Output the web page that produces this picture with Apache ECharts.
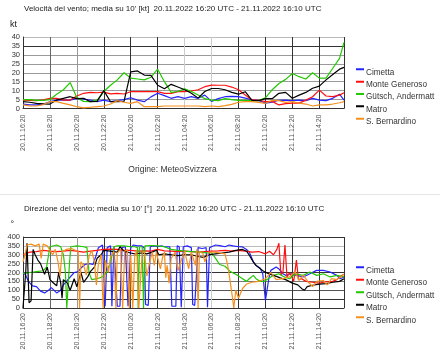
<!DOCTYPE html>
<html><head><meta charset="utf-8">
<script src="https://cdn.jsdelivr.net/npm/echarts@6/dist/echarts.min.js"></script>
<style>html,body{margin:0;padding:0;background:#fff}#c{width:440px;height:363px}</style>
</head><body><div id="c"></div><script>
const FONT = 'Liberation Sans, Arial, sans-serif';
const stationNames = ['Cimetta', 'Monte Generoso', 'Gütsch, Andermatt', 'Matro', 'S. Bernardino'];
const stationColors = ['#2424ff', '#ff1010', '#22c800', '#000000', '#f5901e'];

const titleSpeed = "Velocità del vento; media su 10' [kt]  20.11.2022 16:20 UTC - 21.11.2022 16:10 UTC";
const titleDir = "Direzione del vento; media su 10' [°]  20.11.2022 16:20 UTC - 21.11.2022 16:10 UTC";
const sourceText = 'Origine: MeteoSvizzera';

// hours after 20.11.2022 16:20 UTC
const X_MAX = 23.8333;
const xLabelHours = [0, 2, 4, 6, 8, 10, 12, 14, 16, 18, 20, 22];
const xLineHours = [0, 2, 4, 6, 8, 10, 12, 14, 16, 18, 20, 22, 23.8333];
const speedTicks = [0, 5, 10, 15, 20, 25, 30, 35, 40];
const dirTicks = [0, 50, 100, 150, 200, 250, 300, 350, 400];

// ---- wind speed [kt], half-hour readings
const speedHours = [0,0.5,1,1.5,2,2.5,3,3.5,4,4.5,5,5.5,6,6.5,7,7.5,8,8.5,9,9.5,10,10.5,11,11.5,12,12.5,13,13.5,14,14.5,15,15.5,16,16.5,17,17.5,18,18.5,19,19.5,20,20.5,21,21.5,22,22.5,23,23.5,23.8333];
const speedCimetta = [2.5,2,2,2.5,3.8,4.7,4.7,4.7,5.7,5.2,4.7,3.8,4.7,3.8,4.4,5,6,4.7,3.8,6.5,8.5,7.2,5.7,6.6,5.7,6.6,5.7,7.5,4,5.5,6.6,6.8,6.6,5.8,4.8,4.5,3,3.6,4.6,4.7,4.4,4.7,4.4,5.7,4.7,4.4,5.7,8,4.7];
const speedMonteGeneroso = [4.7,4.5,4.4,4.8,5.7,5.7,4.7,4.7,7,8.5,9,8.8,9.2,8.2,8.5,8.1,9.4,9.4,9.4,9.4,9.4,8.5,8.5,9.4,9.4,9.8,10.5,12.2,13.1,13,13,12,10.5,7.5,4.8,4.6,3.8,4,2,2.7,3,3,4.7,6.6,10.3,7,6.6,7.5,8.8];
const speedGuetsch = [5,5,4.5,4.5,5,8,10.5,14.5,6,4,3.8,4.5,9.5,13,16,20,17,16.5,16,17.5,22,15,9,9.5,11,9.5,7.5,5.5,4.7,4.4,5.5,5,4.5,4.6,4.4,4.4,6,10.5,14,16.3,19.6,17.8,16.5,20,17,17,22.5,28,37];
const speedMatro = [3.8,3.5,2.9,2.6,2.5,4.7,5.7,6.6,5.5,5.7,3.8,4,10,3.8,3.8,4,20.5,21,18.7,18.5,13,11,13.5,12,10.5,8.5,5.8,9.5,11.2,11.2,10.5,9,8,9.4,4.5,4.4,5.5,5.5,8.5,9,5.7,7.5,9,11.3,12.5,16,19,22,23];
const speedSBernardino = [2,1.5,1.4,2.2,3.8,3.8,2.9,2,1,0.3,0.7,1,1.4,2.5,4.4,3.5,2.9,3.8,1,1,1,1.4,1.4,1.4,1.4,1.4,1.4,1,1.4,1,1.6,2.3,3.5,3.8,3.8,3.4,2.9,4.5,4.4,3.4,3.8,3,2.5,1.4,2,2,2.5,3.2,3.8];

// ---- wind direction [°], [hour, degrees]
const dirCimetta = [[0,200],[0.2,185],[0.4,150],[0.7,125],[1.0,120],[1.3,95],[1.6,85],[1.9,100],[2.1,115],[2.5,85],[2.8,100],[3.0,130],[3.4,165],[3.8,200],[4.1,205],[4.3,225],[4.6,245],[4.9,250],[5.2,245],[5.4,290],[5.6,340],[5.9,355],[6.0,345],[6.1,10],[6.25,340],[6.5,350],[6.6,10],[6.75,345],[7.0,10],[7.2,10],[7.35,340],[7.6,345],[7.8,10],[7.9,20],[8.0,340],[8.2,355],[8.5,350],[8.8,350],[9.0,340],[9.1,20],[9.3,15],[9.45,345],[9.7,350],[10.0,345],[10.3,350],[10.5,345],[10.9,345],[11.05,10],[11.2,10],[11.35,10],[11.45,350],[11.6,345],[11.75,5],[11.9,345],[12.2,350],[12.5,340],[12.6,20],[12.75,15],[12.85,10],[13.0,340],[13.3,335],[13.6,340],[13.7,5],[13.85,340],[14.0,345],[14.3,355],[14.7,350],[15.0,345],[15.3,355],[15.6,350],[16.0,345],[16.3,344],[16.6,330],[16.8,315],[17.1,260],[17.3,240],[17.6,225],[17.8,193],[18.0,43],[18.1,90],[18.25,165],[18.4,212],[18.8,231],[19.0,220],[19.3,193],[19.5,184],[19.9,193],[20.3,184],[20.8,175],[21.3,193],[21.8,212],[22.3,212],[22.8,203],[23.3,184],[23.55,165],[23.8333,175]];
const dirMonteGeneroso = [[0,300],[0.5,315],[1,318],[1.5,325],[2,320],[2.5,318],[3,320],[3.5,325],[4,320],[4.5,315],[5,320],[5.5,325],[6,330],[6.5,332],[7,330],[7.5,325],[8,325],[8.5,320],[9,322],[9.5,320],[10,330],[10.5,322],[11,320],[11.5,318],[12,320],[12.5,318],[13,315],[13.5,318],[14,320],[14.5,322],[15,325],[15.5,320],[16,325],[16.5,320],[17,315],[17.5,318],[18,305],[18.3,320],[18.6,300],[18.85,330],[19.0,365],[19.15,185],[19.3,200],[19.45,355],[19.6,175],[19.8,200],[20.1,150],[20.3,270],[20.45,160],[20.7,165],[21,150],[21.5,145],[22,140],[22.5,148],[23,150],[23.3,160],[23.6,180],[23.8333,190]];
const dirGuetsch = [[0,195],[0.5,200],[1.0,205],[1.5,210],[1.75,230],[1.9,300],[2.0,345],[2.5,355],[2.8,345],[3.0,300],[3.15,200],[3.25,0],[3.35,0],[3.45,250],[3.55,345],[4.0,350],[4.5,345],[4.75,340],[4.9,200],[5.1,160],[5.5,165],[5.9,175],[6.2,200],[6.5,260],[6.75,345],[7.0,350],[7.5,350],[8.0,345],[8.3,345],[8.5,340],[8.55,0],[8.65,345],[8.85,345],[8.95,0],[9.05,350],[9.5,352],[10,350],[10.5,345],[11,330],[11.5,325],[12,320],[12.5,318],[13,315],[13.5,312],[14,310],[14.3,280],[14.6,245],[15.0,235],[15.4,205],[15.8,190],[16.0,180],[16.3,165],[16.6,150],[16.8,165],[17.1,184],[17.3,165],[17.6,150],[17.9,150],[18.2,165],[18.6,184],[19.0,193],[19.4,175],[19.8,165],[20.2,193],[20.8,184],[21.3,203],[21.8,184],[22.3,193],[22.8,175],[23.3,184],[23.8333,175]];
const dirMatro = [[0,0],[0.2,200],[0.3,365],[0.45,30],[0.6,40],[0.75,330],[0.9,300],[1.1,270],[1.3,250],[1.6,190],[1.8,230],[2.0,160],[2.2,145],[2.5,125],[2.65,200],[2.8,140],[2.9,55],[3.0,160],[3.3,140],[3.5,100],[3.8,165],[4.0,120],[4.3,200],[4.5,145],[4.8,175],[5.0,205],[5.3,230],[5.5,280],[5.8,300],[6.0,325],[6.5,320],[7.0,315],[7.2,345],[7.5,320],[8.0,310],[8.3,305],[8.8,310],[9.2,305],[9.6,315],[9.9,325],[10.1,300],[10.5,305],[11,300],[11.5,295],[12,300],[12.5,300],[13,290],[13.4,285],[13.8,300],[14.3,305],[14.8,310],[15.3,315],[15.8,325],[16.3,330],[16.6,320],[16.8,297],[17.1,260],[17.3,240],[17.6,222],[17.9,205],[18.2,195],[18.6,184],[19.1,170],[19.5,160],[20.0,140],[20.4,130],[20.7,109],[20.9,100],[21.1,120],[21.5,128],[22.0,135],[22.5,137],[23.0,145],[23.5,150],[23.8333,165]];
const dirSBernardino = [[0,260],[0.15,300],[0.3,355],[0.6,360],[0.9,350],[1.2,360],[1.35,280],[1.5,360],[1.8,350],[2.0,325],[2.2,300],[2.4,330],[2.6,260],[2.75,180],[2.9,315],[3.2,330],[3.6,335],[3.9,325],[4.1,320],[4.2,0],[4.3,260],[4.5,240],[4.7,185],[4.9,290],[5.1,325],[5.3,260],[5.45,130],[5.6,250],[5.8,300],[5.95,0],[6.1,270],[6.35,200],[6.5,290],[6.75,320],[6.9,0],[7.0,310],[7.25,330],[7.4,0],[7.55,320],[7.75,330],[7.9,0],[8.0,300],[8.15,0],[8.3,300],[8.45,320],[8.6,0],[8.7,10],[8.85,310],[9.0,320],[9.2,180],[9.35,240],[9.6,315],[9.75,240],[9.9,315],[10.2,220],[10.35,280],[10.5,315],[10.6,170],[10.7,240],[10.85,140],[11.0,280],[11.3,315],[11.5,210],[11.8,280],[12.0,320],[12.3,220],[12.5,315],[12.8,240],[12.9,330],[13.0,0],[13.1,315],[13.35,310],[13.5,260],[13.8,315],[14.2,315],[14.6,310],[15.0,305],[15.2,240],[15.4,140],[15.55,60],[15.65,0],[15.8,100],[16.0,55],[16.3,110],[16.6,135],[17.0,145],[17.5,150],[18.0,165],[18.4,200],[18.8,160],[19.3,165],[19.8,175],[20.2,205],[20.5,155],[20.8,185],[21.2,145],[21.5,120],[21.8,150],[22.3,155],[22.6,130],[22.9,165],[23.3,160],[23.6,175],[23.8333,190]];

const speedSeries = [speedCimetta, speedMonteGeneroso, speedGuetsch, speedMatro, speedSBernardino];
const dirSeries = [dirCimetta, dirMonteGeneroso, dirGuetsch, dirMatro, dirSBernardino];

function pad(n) { return (n < 10 ? '0' : '') + n; }
function fmtHour(h) {
  const t = 16 * 60 + 20 + Math.round(h * 60);
  const d = 20 + Math.floor(t / 1440);
  const m = t % 1440;
  return d + '.11.' + pad(Math.floor(m / 60)) + ':' + pad(m % 60);
}

const vLineColors = ['#333', '#666', '#999', '#333', '#333', '#333', '#ccc', '#ccc', '#333', '#333', '#333', '#333', '#333'];
const hSpeedColors = ['#333', '#999', '#999', '#999', '#999', '#999', '#999', '#333', '#bbb'];
const hDirColors = ['#333', '#333', '#555', '#777', '#333', '#999', '#999', '#bbb', '#333'];

function xAxisFor(gridIndex, margin) {
  return {
    type: 'value', gridIndex, min: 0, max: X_MAX,
    axisLine: { show: true, onZero: false, lineStyle: { color: '#333', width: 1 } },
    axisTick: { show: false, customValues: xLineHours },
    axisLabel: { customValues: xLabelHours, rotate: 90, fontSize: 7, color: '#555', margin, fontFamily: FONT, formatter: fmtHour },
    splitLine: { show: true, lineStyle: { color: vLineColors, width: 1 } }
  };
}
function yAxisFor(gridIndex, max, interval, colors, name, padRight) {
  return {
    type: 'value', gridIndex, min: 0, max, interval,
    name, nameLocation: 'end', nameGap: 8,
    nameTextStyle: { fontSize: 9, color: '#222', align: 'right', padding: [0, padRight, 0, 0], fontFamily: FONT },
    axisLine: { show: true, lineStyle: { color: '#333', width: 1 } },
    axisTick: { show: false },
    axisLabel: { fontSize: 7.5, color: '#333', margin: 3, fontFamily: FONT },
    splitLine: { show: true, lineStyle: { color: colors, width: 1 } }
  };
}
function legendFor(top, gap) {
  return {
    orient: 'vertical', left: 356, top, padding: 0, itemGap: gap,
    itemWidth: 8, itemHeight: 8, symbolKeepAspect: false,
    icon: 'path://M0,0H8V2H0ZM0,7.99H8V8H0Z',
    data: stationNames,
    textStyle: { fontSize: 8.2, color: '#333', fontFamily: FONT, lineHeight: 10, padding: [0, 0, 0, -3] }
  };
}

const series = [];
stationNames.forEach((name, i) => {
  series.push({
    name, type: 'line', xAxisIndex: 0, yAxisIndex: 0, showSymbol: false,
    color: stationColors[i], lineStyle: { width: 1.2 },
    data: speedHours.map((h, k) => [h, speedSeries[i][k]])
  });
});
stationNames.forEach((name, i) => {
  series.push({
    name, type: 'line', xAxisIndex: 1, yAxisIndex: 1, showSymbol: false,
    color: stationColors[i], lineStyle: { width: 1.2 },
    data: dirSeries[i]
  });
});

const chart = echarts.init(document.getElementById('c'), null, { renderer: 'canvas' });
chart.setOption({
  animation: false,
  textStyle: { fontFamily: FONT },
  title: [
    { text: titleSpeed, left: 24, top: 5, padding: 0, textStyle: { fontSize: 8, fontWeight: 'normal', color: '#222', fontFamily: FONT } },
    { text: titleDir, left: 24, top: 204.5, padding: 0, textStyle: { fontSize: 8, fontWeight: 'normal', color: '#222', fontFamily: FONT } }
  ],
  grid: [
    { left: 23, right: 96, top: 37, height: 71.5 },
    { left: 23, right: 96, top: 237, height: 71 }
  ],
  xAxis: [xAxisFor(0, 6), xAxisFor(1, 5)],
  yAxis: [yAxisFor(0, 40, 5, hSpeedColors, 'kt', 6), yAxisFor(1, 400, 50, hDirColors, '°', 9)],
  legend: [legendFor(67.3, 2.35), legendFor(265.3, 2.5)],
  graphic: [
    { type: 'line', shape: { x1: 0, y1: 194.5, x2: 440, y2: 194.5 }, style: { stroke: '#e4e4e4', lineWidth: 1 } },
    { type: 'text', x: 172.5, y: 169.5, style: { text: sourceText, fontSize: 8.5, fill: '#333', align: 'center', verticalAlign: 'middle', fontFamily: FONT } }
  ],
  series
});
</script></body></html>
